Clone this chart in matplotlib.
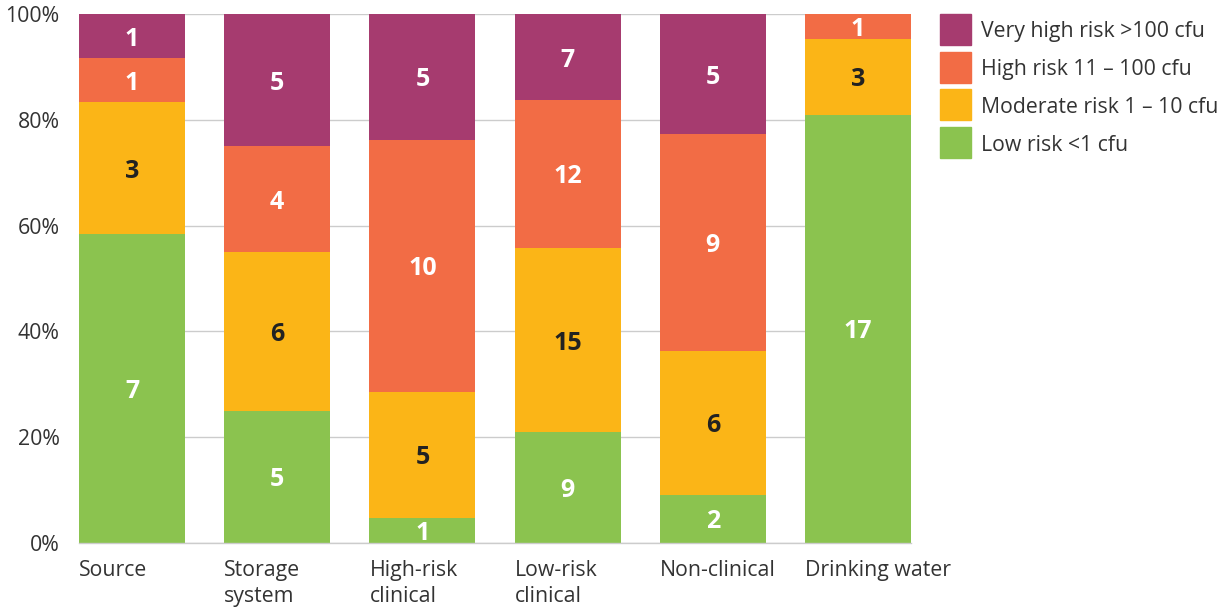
import matplotlib.pyplot as plt
from matplotlib.patches import Rectangle
import numpy as np

plt.rcParams['font.family'] = ['Open Sans', 'DejaVu Sans']

# Categories and counts per risk class
categories = ["Source", "Storage\nsystem", "High-risk\nclinical", "Low-risk\nclinical", "Non-clinical", "Drinking water"]
low = [7, 5, 1, 9, 2, 17]
moderate = [3, 6, 5, 15, 6, 3]
high = [1, 4, 10, 12, 9, 1]
very_high = [1, 5, 5, 7, 5, 0]

series = [
    ("Low risk <1 cfu", low, "#8BC34F", "white"),
    ("Moderate risk 1 \u2013 10 cfu", moderate, "#FBB517", "#222222"),
    ("High risk 11 \u2013 100 cfu", high, "#F26C45", "white"),
    ("Very high risk >100 cfu", very_high, "#A63B6F", "white"),
]

totals = np.array(low) + np.array(moderate) + np.array(high) + np.array(very_high)
x = np.arange(len(categories))
width = 0.73
W, H = 1227, 608

fig = plt.figure(figsize=(W / 100, H / 100), dpi=100)
ax = fig.add_axes([79 / W, 1 - 543 / H, 832 / W, 529 / H])

bottom = np.zeros(len(categories))
for label, vals, color, tcolor in series:
    pct = np.array(vals) / totals * 100
    ax.bar(x, pct, width, bottom=bottom, color=color, label=label, zorder=2)
    for xi, v, p, b in zip(x, vals, pct, bottom):
        if v > 0:
            ax.text(xi, b + p / 2, str(v), ha="center", va="center_baseline",
                    fontsize=18, fontweight="bold", color=tcolor, zorder=3)
    bottom += pct

ax.set_xlim(-width / 2, len(categories) - 1 + width / 2)
ax.set_ylim(0, 100)
ax.set_yticks(np.arange(0, 101, 20))
ax.set_yticklabels([f"{v}%" for v in range(0, 101, 20)])
ax.yaxis.grid(True, color="#cccccc", linewidth=1, zorder=0)
ax.set_axisbelow(True)

ax.set_xticks(x - width / 2)
ax.set_xticklabels(categories, ha="left", va="top", linespacing=1.35)
ax.tick_params(axis="both", length=0, labelsize=15.3, colors="#333333")
ax.tick_params(axis="x", pad=12)
ax.tick_params(axis="y", pad=14)

for s in ["top", "right", "left"]:
    ax.spines[s].set_visible(False)
ax.spines["bottom"].set_color("#cccccc")
ax.spines["bottom"].set_linewidth(1)

# legend drawn by hand: 31 px squares, 37.7 px row step
for i, (label, vals, color, tcolor) in enumerate(series[::-1]):
    top = 14 + i * 37.7
    fig.patches.append(Rectangle((940 / W, 1 - (top + 31) / H), 31 / W, 31 / H,
                                 transform=fig.transFigure, color=color))
    fig.text(981 / W, 1 - (top + 15.5) / H, label, fontsize=15.3, color="#333333",
             ha="left", va="center_baseline")

fig.savefig("out.png", dpi=100)
